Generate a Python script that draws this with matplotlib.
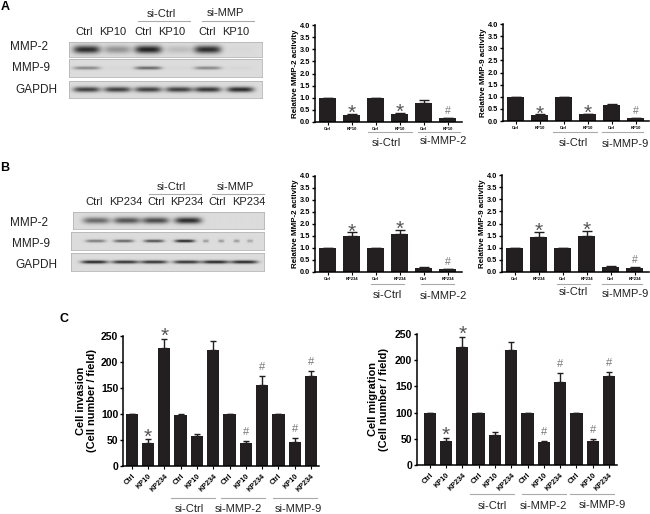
import numpy as np
import matplotlib
matplotlib.use("Agg")
import matplotlib.pyplot as plt

plt.rcParams['font.family'] = ['Liberation Sans', 'DejaVu Sans']

W, H = 650, 514

# panel A / B bars
a_labels = ["Ctrl", "KP10", "Ctrl", "KP10", "Ctrl", "KP10"]
b_labels = ["Ctrl", "KP234", "Ctrl", "KP234", "Ctrl", "KP234"]
a_mmp2 = [1.0, 0.30, 1.0, 0.33, 0.78, 0.15]
a_mmp2_err = [0, 0.03, 0, 0.04, 0.12, 0.03]
a_mmp9 = [1.0, 0.25, 1.0, 0.27, 0.68, 0.12]
a_mmp9_err = [0, 0.02, 0, 0.03, 0.03, 0.02]
b_mmp2 = [1.0, 1.52, 1.0, 1.58, 0.18, 0.12]
b_mmp2_err = [0, 0.13, 0, 0.19, 0.04, 0.02]
b_mmp9 = [1.0, 1.45, 1.0, 1.50, 0.22, 0.18]
b_mmp9_err = [0, 0.20, 0, 0.20, 0.04, 0.03]

# panel C bars
c_labels = ["Ctrl", "KP10", "KP234"] * 4
c_inv = [100, 45, 226, 99, 57, 223, 100, 44, 156, 100, 47, 173]
c_inv_err = [0, 6, 19, 1, 4, 18, 0, 4, 17, 0, 6, 9]
c_mig = [100, 45, 226, 99, 57, 219, 100, 43, 159, 100, 45, 170]
c_mig_err = [0, 6, 19, 1, 6, 16, 0, 3, 17, 0, 5, 7]

# band strength per lane in the blots
a_blot_mmp2 = [0.85, 0.35, 0.90, 0.15, 0.85, 0.02]
a_blot_mmp9 = [0.40, 0.02, 0.55, 0.02, 0.40, 0.03]
a_blot_gapdh = [0.75, 0.75, 0.75, 0.75, 0.80, 0.85]
b_blot_mmp2 = [0.55, 0.65, 0.70, 0.85, 0.0, 0.0]
b_blot_mmp9 = [0.45, 0.55, 0.65, 0.85, 0.30, 0.30, 0.30, 0.25]
b_blot_gapdh = [0.85, 0.80, 0.80, 0.80, 0.85, 0.85]


def px_axes(fig, x0, y0, x1, y1):
    return fig.add_axes([x0 / W, 1 - y1 / H, (x1 - x0) / W, (y1 - y0) / H])


def ftext(fig, x, y, s, **kw):
    kw.setdefault("ha", "center")
    kw.setdefault("va", "center")
    fig.text(x / W, 1 - y / H, s, **kw)


def fline(fig, x0, x1, y):
    fig.add_artist(plt.Line2D([x0 / W, x1 / W], [1 - y / H, 1 - y / H], color="#aaaaaa", lw=0.8))


def blot(fig, box, lanes, strength, thick, bg=0.86, lane_scale=None):
    x0, y0, x1, y1 = box
    w, h = int(x1 - x0), int(y1 - y0)
    xx, yy = np.meshgrid(np.linspace(0, 1, w), np.linspace(0, 1, h))
    img = np.full((h, w), bg)
    if lane_scale is None:
        lane_scale = [1] * len(lanes)
    lane_w = 0.42 / len(lanes)
    for c, s, k in zip(lanes, strength, lane_scale):
        img -= s * 0.8 * np.exp(-((xx - c) / (lane_w * k)) ** 4) * np.exp(-((yy - 0.5) / thick) ** 2)
    ax = px_axes(fig, x0, y0, x1, y1)
    ax.imshow(np.clip(img, 0, 1), cmap="gray", vmin=0, vmax=1, aspect="auto", interpolation="bilinear")
    ax.set_xticks([])
    ax.set_yticks([])
    for s in ax.spines.values():
        s.set_color("#b5b5b5")
        s.set_linewidth(0.6)


def bars(fig, box, first, step, width, vals, errs, labels, ymax, yticks, ylabel,
         stars, hashes, fs, tick_fs, label_fs, rot, star_fs, hash_fs, star_gap, hash_gap, label_x):
    x0, y0, x1, y1 = box
    ax = px_axes(fig, x0, y0, x1, y1)
    x = np.arange(len(vals))
    ax.bar(x, vals, width=width / step, color="#231f20")
    ax.errorbar(x, vals, yerr=[np.zeros(len(errs)), errs], fmt="none", ecolor="#231f20",
                elinewidth=1.0, capsize=width * 0.2, capthick=1.0)
    ax.set_xlim((x0 - first) / step, (x1 - first) / step)
    ax.set_ylim(0, ymax)
    ax.set_yticks(yticks)
    if ymax < 10:
        ax.set_yticklabels([f"{t:.1f}" for t in yticks])
    ax.set_xticks(x)
    if rot:
        ax.set_xticklabels(labels, rotation=rot, ha="right", rotation_mode="anchor", fontsize=tick_fs, fontweight="bold")
    else:
        ax.set_xticklabels(labels, fontsize=tick_fs, fontweight="bold")
    ax.tick_params(axis="y", labelsize=fs, width=1.0, length=2.5, pad=1)
    ax.tick_params(axis="x", width=0.8, length=2, pad=1.5 if not rot else 2.5)
    for t in ax.get_yticklabels():
        t.set_fontweight("bold")
    ax.set_ylabel(ylabel, fontsize=label_fs, fontweight="bold", linespacing=1.1)
    ax.yaxis.set_label_coords((label_x - x0) / (x1 - x0), 0.5)
    ax.spines["top"].set_visible(False)
    ax.spines["right"].set_visible(False)
    ax.spines["left"].set_linewidth(1.1)
    ax.spines["bottom"].set_linewidth(1.1)
    ax.patch.set_alpha(0)
    for i in stars:
        ax.annotate("*", (i, vals[i] + errs[i]), xytext=(0, star_gap * 0.72), textcoords="offset points",
                    ha="center", va="top", fontsize=star_fs, color="#555555")
    for i in hashes:
        ax.annotate("#", (i, vals[i] + errs[i]), xytext=(0, hash_gap * 0.72), textcoords="offset points",
                    ha="center", va="bottom", fontsize=hash_fs, color="#777777")
    return ax


def main():
    fig = plt.figure(figsize=(6.5, 5.14), dpi=100)

    # panel letters
    ftext(fig, 5, 7, "A", fontsize=9, fontweight="bold")
    ftext(fig, 5, 168, "B", fontsize=9, fontweight="bold")
    ftext(fig, 64, 319, "C", fontsize=9, fontweight="bold")

    # A blots
    lanes_a = [0.09, 0.25, 0.41, 0.57, 0.72, 0.89]
    blot(fig, (69, 42, 262, 57), lanes_a, a_blot_mmp2, 0.28)
    blot(fig, (69, 59, 262, 77), lanes_a, a_blot_mmp9, 0.10)
    blot(fig, (69, 81, 262, 98), lanes_a, a_blot_gapdh, 0.17)
    for x, s in zip([84, 113, 143, 172, 207, 236], a_labels):
        ftext(fig, x, 32, s, fontsize=8, color="#222222")
    ftext(fig, 161, 14, "si-Ctrl", fontsize=8, color="#222222")
    ftext(fig, 225, 13, "si-MMP", fontsize=8, color="#222222")
    fline(fig, 138, 190, 21)
    fline(fig, 202, 254, 21)
    ftext(fig, 29, 47, "MMP-2", fontsize=8.5, color="#222222")
    ftext(fig, 31, 68, "MMP-9", fontsize=8.5, color="#222222")
    ftext(fig, 36, 90, "GAPDH", fontsize=8.5, color="#222222")

    # B blots
    lanes_b = [0.12, 0.28, 0.43, 0.60, 0.75, 0.90]
    lanes_b9 = [0.126, 0.272, 0.43, 0.59, 0.70, 0.78, 0.86, 0.93]
    blot(fig, (73, 212, 264, 229), lanes_b, b_blot_mmp2, 0.20)
    blot(fig, (71, 232, 264, 250), lanes_b9, b_blot_mmp9, 0.09, lane_scale=[1, 1, 1, 1, 0.3, 0.3, 0.3, 0.3])
    blot(fig, (71, 253, 264, 271), lanes_b, b_blot_gapdh, 0.10)
    for x, s in zip([94, 126, 156, 187, 217, 249], b_labels):
        ftext(fig, x, 202, s, fontsize=8, color="#222222")
    ftext(fig, 171, 187, "si-Ctrl", fontsize=8, color="#222222")
    ftext(fig, 235, 187, "si-MMP", fontsize=8, color="#222222")
    fline(fig, 149, 201, 194)
    fline(fig, 212, 264, 194)
    ftext(fig, 29, 223, "MMP-2", fontsize=8.5, color="#222222")
    ftext(fig, 31, 244, "MMP-9", fontsize=8.5, color="#222222")
    ftext(fig, 36, 265, "GAPDH", fontsize=8.5, color="#222222")

    # small bar charts
    t4 = [0, 0.5, 1, 1.5, 2, 2.5, 3, 3.5, 4]
    small = dict(ymax=4, yticks=t4, stars=[1, 3], hashes=[5], fs=5.3, tick_fs=3.0, label_fs=5.8,
                 rot=0, star_fs=15, hash_fs=7.5, star_gap=10, hash_gap=2)
    bars(fig, (315, 25, 462, 122), 327.7, 24, 17, a_mmp2, a_mmp2_err, a_labels,
         ylabel="Relative MMP-2 activity", label_x=299, **small)
    bars(fig, (503, 24, 649, 121), 515.7, 24, 17, a_mmp9, a_mmp9_err, a_labels,
         ylabel="Relative MMP-9 activity", label_x=487, **small)
    bars(fig, (315, 176, 462, 272), 327.7, 24, 17, b_mmp2, b_mmp2_err, b_labels,
         ylabel="Relative MMP-2 activity", label_x=299, **small)
    bars(fig, (502, 175, 649, 272), 514.7, 24, 17, b_mmp9, b_mmp9_err, b_labels,
         ylabel="Relative MMP-9 activity", label_x=486, **small)

    # group labels A / B
    for x0, x1, y in [(368, 412, 132), (418, 460, 132), (553, 597, 132), (602, 643, 132),
                      (371, 404, 284), (421, 454, 284), (557, 590, 284), (602, 642, 284)]:
        fline(fig, x0, x1, y)
    for x, y, s in [(386, 143, "si-Ctrl"), (443, 141, "si-MMP-2"), (573, 143, "si-Ctrl"), (625, 144, "si-MMP-9"),
                    (387, 295, "si-Ctrl"), (443, 296, "si-MMP-2"), (573, 292, "si-Ctrl"), (625, 294, "si-MMP-9")]:
        ftext(fig, x, y, s, fontsize=8, color="#222222")

    # panel C
    t250 = [0, 50, 100, 150, 200, 250]
    big = dict(ymax=250, yticks=t250, stars=[1, 2], hashes=[7, 8, 10, 11], fs=7.5, tick_fs=5.2, label_fs=7.9,
               rot=45, star_fs=15, hash_fs=8, star_gap=12, hash_gap=4)
    bars(fig, (123, 336, 319, 466), 131.7, 16.3, 12.3, c_inv, c_inv_err, c_labels,
         ylabel="Cell invasion\n(Cell number / field)", label_x=97, **big)
    bars(fig, (417, 334, 617, 465), 429.7, 16.3, 12.3, c_mig, c_mig_err, c_labels,
         ylabel="Cell migration\n(Cell number / field)", label_x=389, **big)
    for x0, x1, y in [(171, 215, 498), (221, 265, 498), (273, 317, 498),
                      (470, 514, 494), (522, 566, 494), (570, 614, 494)]:
        fline(fig, x0, x1, y)
    for x, y, s in [(189, 509, "si-Ctrl"), (238, 509, "si-MMP-2"), (298, 509, "si-MMP-9"),
                    (492, 506, "si-Ctrl"), (543, 506, "si-MMP-2"), (602, 505, "si-MMP-9")]:
        ftext(fig, x, y, s, fontsize=8, color="#222222")

    fig.savefig("out.png", dpi=100)


if __name__ == "__main__":
    main()
